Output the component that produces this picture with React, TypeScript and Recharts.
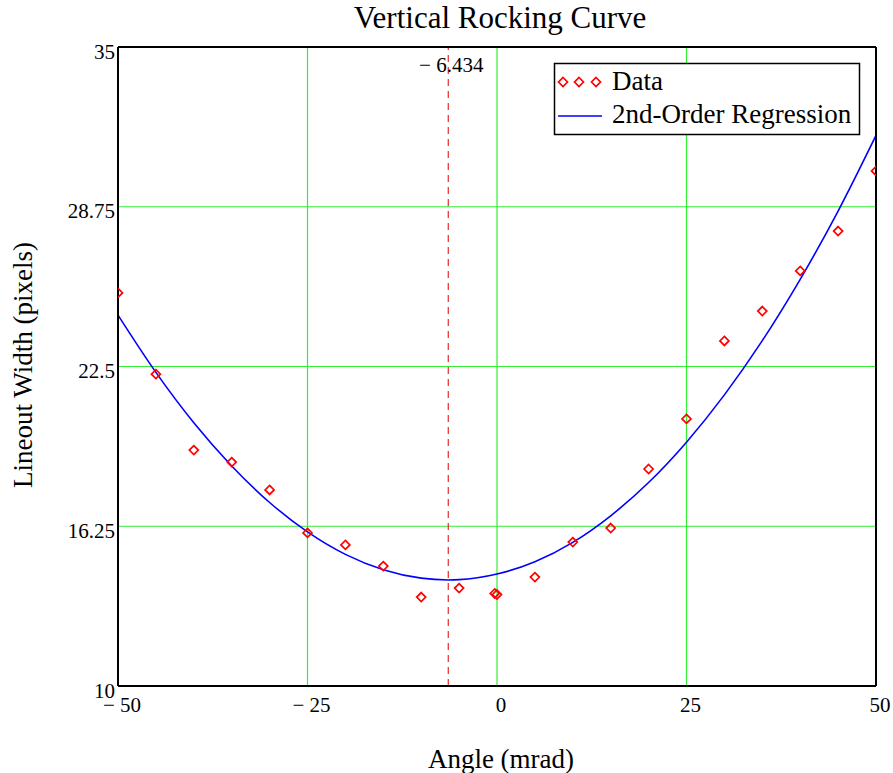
import React from "react";
import {
  ComposedChart,
  Line,
  Scatter,
  XAxis,
  YAxis,
  CartesianGrid,
  ReferenceLine,
} from "recharts";

// Measured data (diamonds)
const dataAngles = [-50, -45, -40, -35, -30, -25, -20, -15, -10, -5, -0.3, 0, 5, 10, 15, 20, 25, 30, 35, 40, 45, 50];
const dataWidths = [25.38, 22.2, 19.23, 18.76, 17.67, 15.99, 15.52, 14.69, 13.48, 13.83, 13.62, 13.58, 14.26, 15.63, 16.18, 18.49, 20.45, 23.5, 24.67, 26.24, 27.8, 30.15];

// Regression curve
const fitAngles = [-50, -45, -40, -35, -30, -25, -20, -15, -10, -6.434, -5, 0, 5, 10, 15, 20, 25, 30, 35, 40, 45, 50];
const fitWidths = [24.51, 22.27, 20.3, 18.61, 17.18, 16.03, 15.15, 14.55, 14.22, 14.15, 14.16, 14.38, 14.86, 15.62, 16.66, 17.96, 19.54, 21.39, 23.51, 25.91, 28.58, 31.54];

const xTicks = [-50, -25, 0, 25, 50];
const yTicks = [10, 16.25, 22.5, 28.75, 35];
const xTickLabels = ["\u2212 50", "\u2212 25", "0", "25", "50"];
const yTickLabels = ["10", "16.25", "22.5", "28.75", "35"];
const minAngle = -6.434;
const minLabel = "\u2212 6.434";

const title = "Vertical Rocking Curve";
const xLabel = "Angle (mrad)";
const yLabel = "Lineout Width (pixels)";
const legendData = "Data";
const legendFit = "2nd-Order Regression";

const FONT = "'Liberation Serif', 'DejaVu Serif', serif";

const points = dataAngles.map((x, i) => ({ x, y: dataWidths[i] }));
const curve = fitAngles.map((x, i) => ({ x, y: fitWidths[i] }));

const PLOT_LEFT = 118;
const PLOT_BOTTOM = 686;

const Diamond = (props: any) => {
  const { cx, cy } = props;
  if (cx == null || cy == null) return null;
  const r = 4.5;
  return (
    <polygon
      points={`${cx},${cy - r} ${cx + r},${cy} ${cx},${cy + r} ${cx - r},${cy}`}
      fill="none"
      stroke="#ff0000"
      strokeWidth={1.7}
    />
  );
};

const XTick = (props: any) => {
  const { x, payload } = props;
  const idx = xTicks.indexOf(payload.value);
  return (
    <text x={x + 4} y={PLOT_BOTTOM + 26} textAnchor="middle" fontFamily={FONT} fontSize={21} fill="#000">
      {idx >= 0 ? xTickLabels[idx] : payload.value}
    </text>
  );
};

const YTick = (props: any) => {
  const { y, payload } = props;
  const idx = yTicks.indexOf(payload.value);
  return (
    <text x={PLOT_LEFT - 3} y={y + 11.5} textAnchor="end" fontFamily={FONT} fontSize={21} fill="#000">
      {idx >= 0 ? yTickLabels[idx] : payload.value}
    </text>
  );
};

const MinLabel = (props: any) => {
  const { viewBox } = props;
  const x = viewBox.x;
  return (
    <text x={x + 3} y={72} textAnchor="middle" fontFamily={FONT} fontSize={21} fill="#000">
      {minLabel}
    </text>
  );
};

export default function App() {
  return (
    <div style={{ position: "absolute", left: 0, top: 0, width: 893, height: 773, background: "#fff" }}>
      <ComposedChart
        width={893}
        height={773}
        margin={{ top: 47, right: 17, bottom: 47, left: 58 }}
      >
        <CartesianGrid stroke="#33ee33" strokeWidth={1.2} horizontalValues={yTicks} verticalValues={xTicks} />
        <XAxis
          type="number"
          dataKey="x"
          domain={[-50, 50]}
          ticks={xTicks}
          allowDataOverflow
          height={40}
          axisLine={false}
          tickLine={false}
          tick={<XTick />}
          interval={0}
        />
        <YAxis
          type="number"
          dataKey="y"
          domain={[10, 35]}
          ticks={yTicks}
          allowDataOverflow
          width={60}
          axisLine={false}
          tickLine={false}
          tick={<YTick />}
          interval={0}
        />
        <ReferenceLine
          x={minAngle}
          stroke="#dd0000"
          strokeWidth={1}
          strokeDasharray="7 5"
          label={<MinLabel />}
        />
        <Line
          data={curve}
          dataKey="y"
          type="monotone"
          stroke="#0000ff"
          strokeWidth={1.6}
          dot={false}
          activeDot={false}
          isAnimationActive={false}
        />
        <Scatter data={points} dataKey="y" shape={<Diamond />} isAnimationActive={false} />
        <ReferenceLine x={-50} stroke="#000" strokeWidth={2} />
        <ReferenceLine x={50} stroke="#000" strokeWidth={2} />
        <ReferenceLine y={10} stroke="#000" strokeWidth={2} />
        <ReferenceLine y={35} stroke="#000" strokeWidth={2} />
      </ComposedChart>
      <svg
        width={893}
        height={773}
        style={{ position: "absolute", left: 0, top: 0, pointerEvents: "none" }}
      >
        <text x={500} y={28} textAnchor="middle" fontFamily={FONT} fontSize={31} fill="#000">
          {title}
        </text>
        <text x={501} y={768} textAnchor="middle" fontFamily={FONT} fontSize={27} fill="#000">
          {xLabel}
        </text>
        <text
          x={0}
          y={0}
          transform="translate(32,365) rotate(-90)"
          textAnchor="middle"
          fontFamily={FONT}
          fontSize={27}
          fill="#000"
        >
          {yLabel}
        </text>
        <rect x={554.5} y={63.5} width={305} height={71} fill="#fff" stroke="#000" strokeWidth={1.5} />
        {[563, 579, 596].map((cx) => (
          <polygon
            key={cx}
            points={`${cx},${82 - 4.5} ${cx + 4.5},82 ${cx},${82 + 4.5} ${cx - 4.5},82`}
            fill="none"
            stroke="#ff0000"
            strokeWidth={1.7}
          />
        ))}
        <text x={612} y={90} fontFamily={FONT} fontSize={27} fill="#000">
          {legendData}
        </text>
        <line x1={558} y1={116} x2={602} y2={116} stroke="#0000ff" strokeWidth={1.6} />
        <text x={612} y={123} fontFamily={FONT} fontSize={27} fill="#000">
          {legendFit}
        </text>
      </svg>
    </div>
  );
}
